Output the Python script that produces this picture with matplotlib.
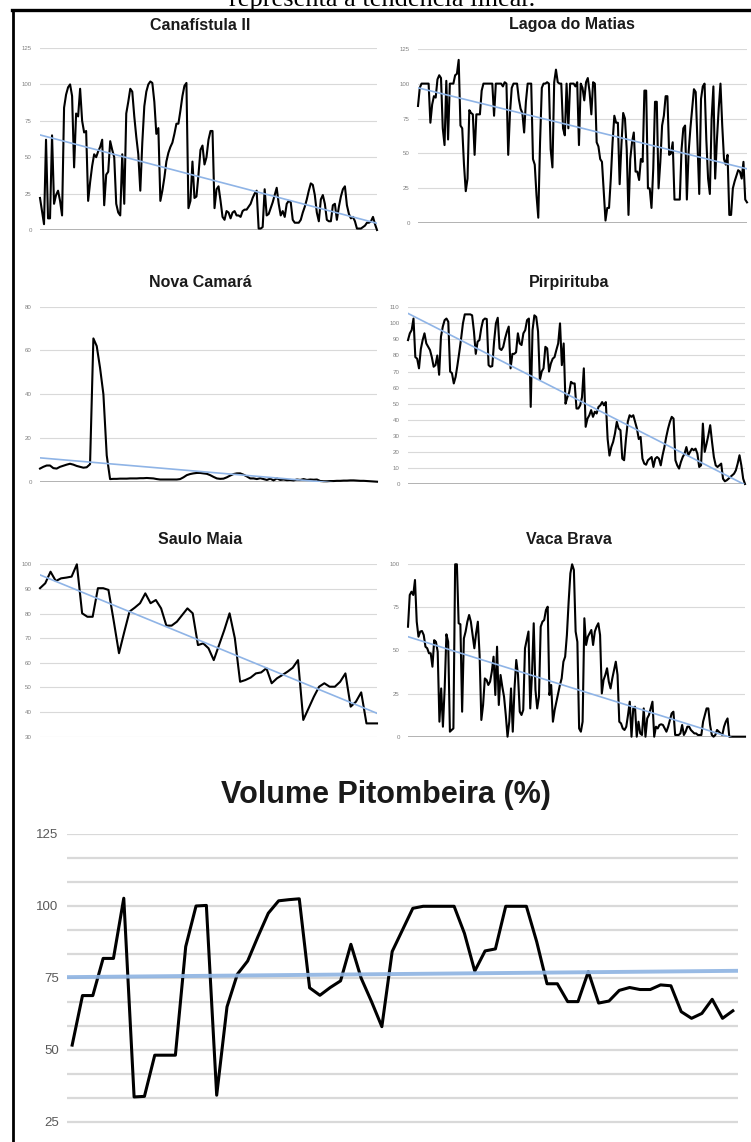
import numpy as np
import matplotlib
matplotlib.use("Agg")
import matplotlib.pyplot as plt
from matplotlib.lines import Line2D

plt.rcParams['font.family'] = ['Liberation Sans', 'DejaVu Sans']

# volumes (%)
canafistula = [22, 13, 4, 62, 8, 8, 65, 18, 24, 27, 20, 10, 84, 93, 98, 100, 92, 43, 80, 78,
               97, 75, 67, 68, 20, 33, 44, 52, 50, 54, 57, 62, 17, 38, 40, 61, 55, 50, 18, 12,
               10, 52, 18, 80, 88, 97, 95, 78, 64, 52, 27, 60, 85, 95, 100, 102, 101, 88, 66, 70,
               20, 27, 36, 47, 53, 57, 60, 66, 73, 73, 82, 92, 99, 101, 15, 20, 47, 22, 23, 38,
               55, 58, 45, 50, 62, 68, 68, 15, 28, 30, 20, 9, 7, 13, 12, 8, 12, 13, 10, 10,
               9, 13, 14, 14, 16, 18, 22, 25, 27, 1, 1, 2, 28, 10, 11, 15, 19, 24, 29, 18,
               10, 13, 9, 18, 20, 19, 7, 5, 5, 5, 7, 12, 16, 21, 27, 32, 31, 24, 12, 6,
               21, 24, 18, 7, 6, 6, 17, 18, 7, 16, 23, 28, 30, 17, 11, 8, 9, 6, 1, 1,
               1, 2, 3, 5, 5, 6, 9, 4, 0]

lagoa = [84, 97, 100, 100, 100, 100, 100, 72, 85, 91, 90, 103, 106, 104, 68, 56, 102, 60, 100, 100,
         100, 106, 107, 117, 70, 68, 42, 23, 32, 81, 79, 78, 49, 78, 78, 78, 95, 100, 100, 100,
         100, 100, 100, 77, 100, 100, 100, 100, 98, 101, 100, 49, 79, 97, 100, 100, 100, 89, 82, 79,
         65, 87, 100, 100, 100, 46, 42, 20, 4, 58, 97, 100, 100, 101, 100, 53, 40, 101, 110, 101,
         100, 100, 68, 63, 100, 68, 100, 100, 100, 98, 101, 56, 100, 97, 88, 101, 104, 94, 78, 101,
         100, 58, 55, 46, 44, 23, 2, 11, 11, 32, 58, 77, 72, 72, 28, 56, 79, 75, 53, 6,
         46, 58, 65, 37, 37, 31, 46, 44, 95, 95, 25, 25, 11, 39, 87, 87, 25, 44, 70, 77,
         91, 91, 49, 50, 58, 17, 17, 17, 17, 53, 68, 70, 17, 51, 68, 82, 96, 94, 58, 21,
         89, 98, 100, 60, 32, 21, 75, 98, 32, 60, 82, 100, 70, 46, 42, 49, 6, 6, 25, 30,
         34, 38, 37, 32, 44, 17, 15]

nova_camara = [6.0, 6.8, 7.4, 7.4, 6.2, 6.0, 6.8, 7.3, 7.8, 8.2, 7.8, 7.2, 6.8, 6.4, 6.6, 8.0,
               65.5, 62, 52, 40, 12, 1.2, 1.3, 1.3, 1.4, 1.4, 1.4, 1.5, 1.5, 1.5, 1.6, 1.6,
               1.7, 1.6, 1.5, 1.2, 1.0, 1.0, 1.0, 1.0, 1.0, 1.0, 1.2, 2.0, 3.0, 3.5, 3.8, 4.0,
               4.0, 3.8, 3.6, 3.0, 2.2, 1.5, 1.3, 1.4, 2.0, 2.8, 3.5, 3.8, 3.8, 3.2, 2.4, 1.5,
               1.5, 1.2, 1.6, 1.2, 0.8, 1.4, 0.6, 1.5, 0.8, 1.0, 0.7, 0.8, 0.6, 1.0, 0.8, 1.2,
               0.8, 1.0, 0.9, 1.0, 0.3, 0.2, 0.2, 0.3, 0.3, 0.4, 0.4, 0.5, 0.5, 0.6, 0.6, 0.5,
               0.4, 0.4, 0.3, 0.2, 0.1, 0.0]

pirpirituba = [89.6, 93.8, 95.8, 103, 79, 78, 72, 84, 89.6, 93.8, 87.5, 85.4, 83.4, 79, 73, 74,
               80, 68, 91.7, 98, 102, 103, 101, 70, 69, 62.6, 66.7, 74, 82, 90.6, 100, 105.6,
               105.6, 105.6, 105.6, 105, 95, 81, 88.6, 89.6, 97, 102, 103, 102.7, 74, 73, 73.4, 88.6,
               100, 103.5, 84.4, 83.4, 85.4, 90.6, 94.8, 98, 72, 81, 81, 82, 93.8, 87.5, 86.5, 93.8,
               95.8, 102, 103, 48, 95.8, 105, 104, 95, 64.7, 70, 72, 85.4, 84.4, 70, 75, 78,
               79, 83.4, 87.5, 100, 74, 87.5, 50, 54, 57, 63.6, 62.6, 62.6, 47, 47, 49, 54,
               72, 35.6, 40.7, 42.8, 46, 41.8, 45, 43.9, 48, 49, 51, 49, 51, 28, 17.7, 23,
               26.2, 31.4, 38.7, 34.5, 33.5, 15.8, 14.8, 28, 38.7, 42.8, 41.8, 42.8, 38.7, 34.5, 28, 29.3,
               15.8, 12.7, 12, 14.8, 15.8, 16.8, 10.6, 15.8, 16.8, 15.8, 11.6, 17.9, 23, 29.3, 34.5, 38.7,
               41.8, 40.7, 14.8, 11.6, 9.6, 13.7, 16.8, 18.9, 23, 17.9, 20, 22, 21, 22, 18.9, 10.6,
               11.6, 37.6, 20, 25, 30.4, 36.6, 26.2, 16.8, 11.6, 10.6, 11.6, 12.7, 3.3, 1.7, 2.3, 3.3,
               4.4, 5.4, 6.4, 8.5, 12.7, 17.9, 11.6, 3.3, 0]

saulo_maia = [90.3, 92.3, 97, 93.2, 94.3, 94.6, 95, 100, 80.1, 78.7, 78.7, 90.3, 90.3, 89.6, 77, 63.9,
              72.5, 80.8, 82.4, 84.2, 88.2, 84.2, 85.5, 82.1, 75.1, 75.1, 76.7, 79.4, 82.1, 80.1, 67.2, 67.9,
              65.9, 61.1, 67.2, 73.3, 80.1, 70, 52.3, 53, 54, 55.7, 56.1, 57.8, 51.7, 53.7, 55, 56.4,
              58, 61.1, 36.8, 41.5, 46.2, 50.3, 51.7, 50.3, 50.3, 52.3, 55.7, 42.2, 44.2, 48, 35.4, 35.4,
              35.4]

vaca_brava = [63.8, 82.2, 84.1, 82.2, 90.9, 66.7, 58, 61, 61.3, 59, 52.2, 51.3, 48.4, 48.4, 40.6, 56,
              55, 49.3, 8.7, 28, 5.8, 28, 59.4, 55, 2.9, 3.9, 4.8, 100, 100, 65.8, 65.2, 14.5,
              57, 61, 66.7, 70.6, 66.7, 59, 51.3, 60, 66.7, 47.4, 9.7, 18.4, 33.8, 32.9, 30, 31.9,
              37.7, 46.4, 24.2, 52.2, 18.4, 35.8, 29, 23.2, 12.6, 0, 8.7, 28, 2.9, 28, 44.5, 35.8,
              14.5, 12.6, 15.5, 51.3, 56, 61, 16.4, 35.8, 65.8, 27, 16.4, 23.2, 63.8, 66.7, 67.7, 73.5,
              75.4, 24.2, 30, 8.7, 15.5, 20.3, 25.1, 30, 33.8, 43.5, 46.4, 59, 78.3, 94.8, 100, 96.7,
              61, 55, 4.8, 2.9, 8.7, 68.7, 53.2, 58, 60, 61.9, 53.2, 61, 63.8, 65.8, 59, 25.1,
              32.9, 35.8, 39.7, 31.9, 28, 33.8, 38.7, 43.5, 35.8, 8.7, 7.7, 4.8, 3.9, 5.8, 12.6, 20.3,
              0, 16.4, 17.4, 0, 8.7, 1.9, 1, 16.4, 0, 10.6, 12.6, 16.4, 20.3, 0, 5.8, 4.8,
              6.8, 7.2, 6.8, 4.8, 2.9, 5.8, 9.7, 13.5, 14.5, 1, 1, 1, 1.9, 6.8, 1, 2.9,
              5.8, 5.8, 3.9, 2.9, 1.9, 1.9, 1, 1, 1, 8.7, 12.6, 16.4, 16.4, 6.8, 1, 0,
              1, 3.9, 2.9, 1.9, 1, 5.8, 8.7, 10.6, 0, 0, 0, 0, 0, 0, 0, 0,
              0, 0]

pitombeira = [51.7, 68.9, 68.9, 81.8, 81.8, 102.7, 33.7, 33.9, 48.2, 48.2, 48.2, 85.9, 100, 100.2, 34.3, 65,
              76.3, 80.9, 89.4, 97.5, 101.8, 102.2, 102.5, 71.6, 69, 71.7, 74, 86.7, 74.9, 66.8, 58.1, 84.2,
              91.7, 99.2, 99.9, 99.9, 99.9, 99.9, 90.5, 77.4, 84.4, 85.1, 99.9, 99.9, 99.9, 87.6, 73, 73,
              66.8, 66.8, 77.2, 66.3, 67, 70.7, 71.7, 71, 71, 72.6, 72.3, 63.3, 61, 62.7, 67.6, 61,
              63.6]

titulos = ['Canafístula II', 'Lagoa do Matias', 'Nova Camará', 'Pirpirituba', 'Saulo Maia', 'Vaca Brava']
series = [canafistula, lagoa, nova_camara, pirpirituba, saulo_maia, vaca_brava]
y_min = [0, 0, 0, 0, 30, 0]
y_max = [125, 125, 80, 110, 100, 100]
y_passo = [25, 25, 20, 10, 10, 25]
# tendencia linear: valor no inicio e no fim
tend_ini = [65.3, 97, 10.9, 106.2, 95.7, 58]
tend_fim = [4.6, 39, -2.2, -0.5, 39.5, -3]

pit_tend = [75.3, 77.5]
pit_ticks = [25, 50, 75, 100, 125]

W, H = 751, 1142
fig = plt.figure(figsize=(W / 100, H / 100), dpi=100)

def caixa(x0, x1, ytop, ybot):
    return [x0 / W, 1 - ybot / H, (x1 - x0) / W, (ybot - ytop) / H]

# (x0, x1, y topo, y base, centro titulo x, centro titulo y)
posicoes = [(40, 377, 48, 230, 200, 25),
            (418, 747, 48.7, 223.3, 572, 25),
            (40, 377, 306.7, 481.7, 200, 282),
            (408, 745, 307.3, 484, 569, 282),
            (40, 377, 564.3, 736.7, 200, 540),
            (408, 745, 564.3, 736.7, 569, 540)]

for i in range(6):
    x0, x1, yt, yb, tx, ty = posicoes[i]
    ax = fig.add_axes(caixa(x0, x1, yt, yb))
    s = series[i]
    n = len(s)
    ticks = np.arange(y_min[i], y_max[i] + 0.1, y_passo[i])
    for t in ticks:
        if t == 0:
            ax.axhline(t, color='#a6a6a6', lw=1.2, zorder=1)
        else:
            ax.axhline(t, color='#d9d9d9', lw=0.8, zorder=1)
    ax.plot(np.arange(n), s, color='black', lw=1.5, zorder=3, clip_on=False)
    ax.plot([0, n - 1], [tend_ini[i], tend_fim[i]], color='#8fb4e6', lw=1.2, zorder=4)
    ax.set_xlim(0, n - 1)
    ax.set_ylim(y_min[i], y_max[i])
    ax.set_yticks(ticks)
    ax.set_xticks([])
    ax.tick_params(axis='y', length=0, labelsize=4.4, labelcolor='#808080', pad=6)
    for sp in ax.spines.values():
        sp.set_visible(False)
    fig.text(tx / W, 1 - ty / H, titulos[i], ha='center', va='center',
             fontsize=11.5, fontweight='bold', color='#1a1a1a')

# grafico grande
ax = fig.add_axes(caixa(67, 738, 834, 1142))
n = len(pitombeira)
y_baixo = 25 - (1142 - 1122) / 2.88
for t in np.arange(25, 125.1, 25 / 3):
    ax.axhline(t, color='#d9d9d9', lw=1.6, zorder=1)
ax.plot(np.arange(n), pitombeira, color='black', lw=2.2, zorder=3)
ax.plot([-0.5, n - 0.5], pit_tend, color='#8db3e2', lw=2.8, zorder=4, alpha=0.9)
ax.set_xlim(-0.5, n - 0.5)
ax.set_ylim(y_baixo, 125)
ax.set_yticks(pit_ticks)
ax.set_xticks([])
ax.tick_params(axis='y', length=0, labelsize=9.5, labelcolor='#595959', pad=6)
for sp in ax.spines.values():
    sp.set_visible(False)
fig.text(386 / W, 1 - 795 / H, 'Volume Pitombeira (%)', ha='center', va='center',
         fontsize=22, fontweight='bold', color='#1a1a1a')

# texto cortado no topo e moldura
fig.text(382 / W, 1 - 6 / H, 'representa a tendência linear.', ha='center', va='baseline',
         fontsize=19, family='Liberation Serif', color='black')
fig.add_artist(Line2D([12 / W, 1], [1 - 10 / H, 1 - 10 / H], color='black', lw=2.4))
fig.add_artist(Line2D([13 / W, 13 / W], [0, 1 - 10 / H], color='black', lw=2.0))

fig.savefig('out.png', dpi=100)
